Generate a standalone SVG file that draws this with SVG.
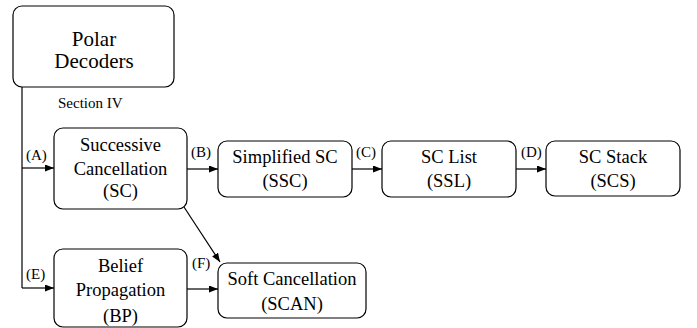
<svg xmlns="http://www.w3.org/2000/svg" width="697" height="328" viewBox="0 0 697 328">
<defs>
<marker id="ah" markerWidth="9" markerHeight="7" refX="9" refY="3.5" orient="auto" markerUnits="userSpaceOnUse">
<path d="M0,0 L9,3.5 L0,7 Z" fill="#000"/>
</marker>
</defs>
<g id="connectors" fill="none" stroke="#000" stroke-width="1.2">
<path d="M22,87 V288"/>
<path d="M22,168 H54" marker-end="url(#ah)"/>
<path d="M22,288 H54" marker-end="url(#ah)"/>
<path d="M187,169 H218" marker-end="url(#ah)"/>
<path d="M352,169 H382" marker-end="url(#ah)"/>
<path d="M516,169 H546" marker-end="url(#ah)"/>
<path d="M187,289 H218" marker-end="url(#ah)"/>
<path d="M184,207 L220,262" marker-end="url(#ah)"/>
</g>
<g id="labels">
<text font-family="Liberation Serif" font-size="15" fill="#000" x="58" y="108">Section IV</text>
<text font-family="Liberation Serif" font-size="15" fill="#000" x="26" y="160">(A)</text>
<text font-family="Liberation Serif" font-size="15" fill="#000" x="26" y="279">(E)</text>
<text font-family="Liberation Serif" font-size="15" fill="#000" x="191" y="157">(B)</text>
<text font-family="Liberation Serif" font-size="15" fill="#000" x="356" y="157">(C)</text>
<text font-family="Liberation Serif" font-size="15" fill="#000" x="521" y="157">(D)</text>
<text font-family="Liberation Serif" font-size="15" fill="#000" x="192" y="268">(F)</text>
</g>
<g id="polar">
<rect x="13" y="6" width="161" height="81" rx="9" fill="#fff" stroke="#000" stroke-width="1.2"/>
<text font-family="Liberation Serif" font-size="21" text-anchor="middle" x="94" y="46">Polar</text>
<text font-family="Liberation Serif" font-size="21" text-anchor="middle" x="94" y="68">Decoders</text>
</g>
<g id="sc">
<rect x="54" y="128" width="133" height="81" rx="9" fill="#fff" stroke="#000" stroke-width="1.2"/>
<text font-family="Liberation Serif" font-size="18.5" text-anchor="middle" x="120.5" y="151">Successive</text>
<text font-family="Liberation Serif" font-size="18.5" text-anchor="middle" x="120.5" y="175">Cancellation</text>
<text font-family="Liberation Serif" font-size="18.5" text-anchor="middle" x="120.5" y="197">(SC)</text>
</g>
<g id="bp">
<rect x="54" y="249" width="133" height="78" rx="9" fill="#fff" stroke="#000" stroke-width="1.2"/>
<text font-family="Liberation Serif" font-size="18.5" text-anchor="middle" x="120.5" y="272">Belief</text>
<text font-family="Liberation Serif" font-size="18.5" text-anchor="middle" x="120.5" y="296">Propagation</text>
<text font-family="Liberation Serif" font-size="18.5" text-anchor="middle" x="120.5" y="322">(BP)</text>
</g>
<g id="ssc">
<rect x="218" y="141" width="134" height="56" rx="9" fill="#fff" stroke="#000" stroke-width="1.2"/>
<text font-family="Liberation Serif" font-size="18.5" text-anchor="middle" x="285" y="163">Simplified SC</text>
<text font-family="Liberation Serif" font-size="18.5" text-anchor="middle" x="285" y="187">(SSC)</text>
</g>
<g id="ssl">
<rect x="382" y="141" width="134" height="56" rx="9" fill="#fff" stroke="#000" stroke-width="1.2"/>
<text font-family="Liberation Serif" font-size="18.5" text-anchor="middle" x="449" y="163">SC List</text>
<text font-family="Liberation Serif" font-size="18.5" text-anchor="middle" x="449" y="187">(SSL)</text>
</g>
<g id="scs">
<rect x="546" y="141" width="134" height="55" rx="9" fill="#fff" stroke="#000" stroke-width="1.2"/>
<text font-family="Liberation Serif" font-size="18.5" text-anchor="middle" x="613" y="163">SC Stack</text>
<text font-family="Liberation Serif" font-size="18.5" text-anchor="middle" x="613" y="187">(SCS)</text>
</g>
<g id="scan">
<rect x="218" y="263" width="148" height="55" rx="9" fill="#fff" stroke="#000" stroke-width="1.2"/>
<text font-family="Liberation Serif" font-size="18.5" text-anchor="middle" x="292" y="285">Soft Cancellation</text>
<text font-family="Liberation Serif" font-size="18.5" text-anchor="middle" x="292" y="310">(SCAN)</text>
</g>
</svg>
